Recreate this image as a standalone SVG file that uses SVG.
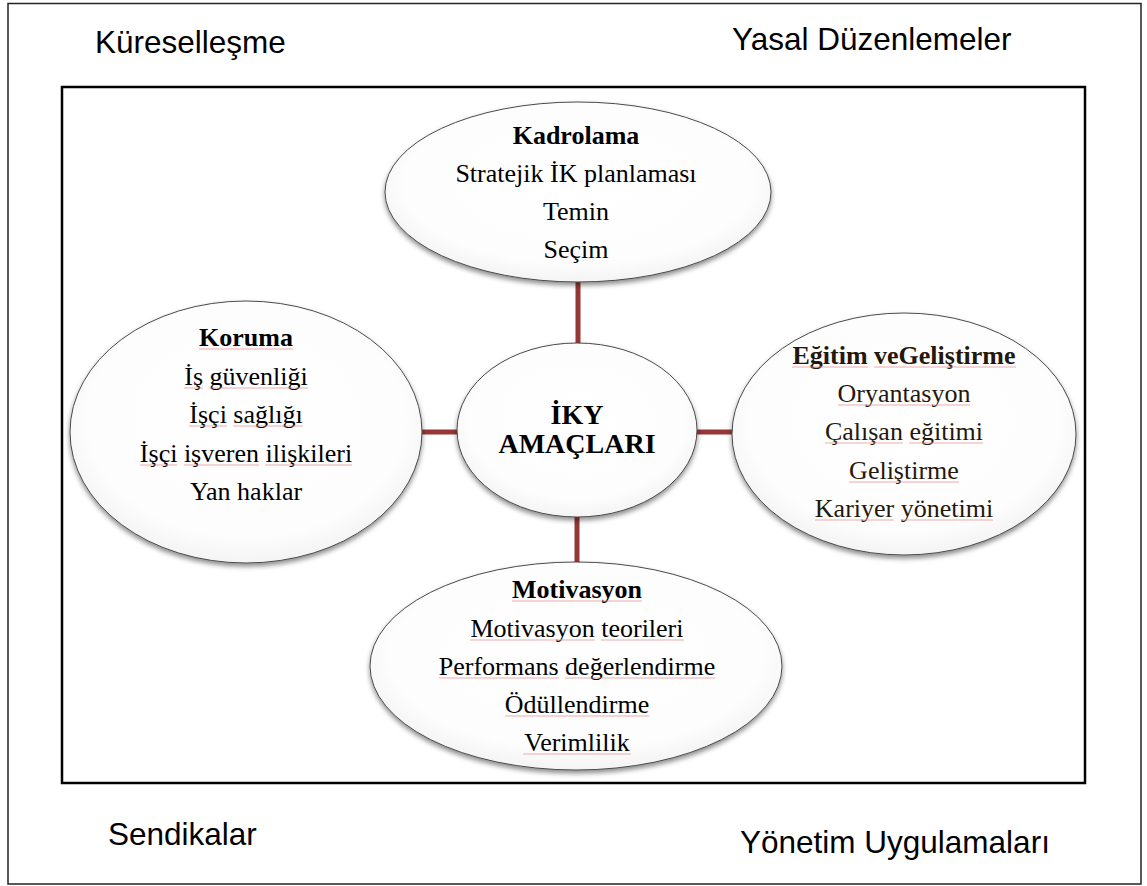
<svg xmlns="http://www.w3.org/2000/svg" width="1147" height="886" viewBox="0 0 1147 886">
<defs>
<radialGradient id="g" cx="50%" cy="45%" r="60%">
<stop offset="0" stop-color="#ffffff"/>
<stop offset="0.75" stop-color="#fdfdfd"/>
<stop offset="1" stop-color="#efefef"/>
</radialGradient>
<filter id="sh" x="-10%" y="-10%" width="120%" height="125%">
<feDropShadow dx="0" dy="3" stdDeviation="2.5" flood-color="#000" flood-opacity="0.45"/>
</filter>
</defs>
<style>
.frame{fill:none}
.el{fill:url(#g);stroke:#4a4a4a;stroke-width:1;filter:url(#sh)}
.t{font-family:"Liberation Serif","Times New Roman",serif;font-size:26px;text-anchor:middle;fill:#000}
.b{font-weight:bold}
.br{fill:#24180c}
.env{font-family:"Liberation Sans",Arial,sans-serif;font-size:31.5px;fill:#000}
.conn line{stroke:#953735;stroke-width:5}
.sp line{stroke:#e88f8f;stroke-width:1;opacity:0.75}
</style>
<rect width="1147" height="886" fill="#fff"/>
<rect class="frame" x="8" y="3.5" width="1133" height="880.5" stroke="#222" stroke-width="1.5"/>
<rect class="frame" x="62" y="87" width="1023" height="696" stroke="#000" stroke-width="2.5"/>
<g id="env">
<text class="env" x="95" y="53">Küreselleşme</text>
<text class="env" x="732" y="50">Yasal Düzenlemeler</text>
<text class="env" x="108" y="845">Sendikalar</text>
<text class="env" x="740" y="853">Yönetim Uygulamaları</text>
</g>
<g id="connectors" class="conn">
<line x1="578" y1="280" x2="578" y2="345"/>
<line x1="420" y1="432" x2="459" y2="432"/>
<line x1="695" y1="432" x2="734" y2="432"/>
<line x1="577" y1="514" x2="577" y2="564"/>
</g>
<g id="kadrolama">
<ellipse class="el" cx="578" cy="192" rx="193" ry="90"/>
<text class="t b" x="576" y="144">Kadrolama</text>
<text class="t" x="576" y="182">Stratejik İK planlaması</text>
<text class="t" x="576" y="220">Temin</text>
<text class="t" x="576" y="258">Seçim</text>
</g>
<g id="koruma">
<ellipse class="el" cx="246" cy="432" rx="176" ry="131"/>
<text class="t b" x="246" y="346">Koruma</text>
<text class="t" x="246" y="385">İş güvenliği</text>
<text class="t" x="246" y="423">İşçi sağlığı</text>
<text class="t" x="246" y="462">İşçi işveren ilişkileri</text>
<text class="t" x="246" y="500">Yan haklar</text>
<g class="sp">
<line x1="199" y1="349" x2="293" y2="349"/>
<line x1="184" y1="388" x2="203" y2="388"/>
<line x1="209.5" y1="388" x2="308" y2="388"/>
<line x1="189" y1="426" x2="227" y2="426"/>
<line x1="233" y1="426" x2="303" y2="426"/>
<line x1="140" y1="465" x2="177" y2="465"/>
<line x1="184" y1="465" x2="259" y2="465"/>
<line x1="265" y1="465" x2="352" y2="465"/>
</g>
</g>
<g id="merkez">
<ellipse class="el" cx="577" cy="430" rx="120" ry="87"/>
<text class="t b" x="577" y="424" style="font-size:28px">İKY</text>
<text class="t b" x="577" y="453" style="font-size:28px">AMAÇLARI</text>
</g>
<g id="egitim">
<ellipse class="el" cx="904" cy="434" rx="172" ry="121"/>
<text class="t b br" x="904" y="364">Eğitim veGeliştirme</text>
<text class="t br" x="904" y="402">Oryantasyon</text>
<text class="t br" x="904" y="440">Çalışan eğitimi</text>
<text class="t br" x="904" y="479">Geliştirme</text>
<text class="t br" x="904" y="517">Kariyer yönetimi</text>
<g class="sp">
<line x1="792" y1="367" x2="868" y2="367"/>
<line x1="874" y1="367" x2="1016" y2="367"/>
<line x1="838" y1="405" x2="970" y2="405"/>
<line x1="825" y1="443" x2="903" y2="443"/>
<line x1="909" y1="443" x2="983" y2="443"/>
<line x1="849" y1="482" x2="959" y2="482"/>
<line x1="815" y1="520" x2="894" y2="520"/>
<line x1="901" y1="520" x2="993" y2="520"/>
</g>
</g>
<g id="motivasyon">
<ellipse class="el" cx="576" cy="666" rx="206" ry="104"/>
<text class="t b" x="577" y="598">Motivasyon</text>
<text class="t" x="577" y="637">Motivasyon teorileri</text>
<text class="t" x="577" y="675">Performans değerlendirme</text>
<text class="t" x="577" y="713">Ödüllendirme</text>
<text class="t" x="577" y="751">Verimlilik</text>
<g class="sp">
<line x1="512" y1="601" x2="642" y2="601"/>
<line x1="470" y1="640" x2="595" y2="640"/>
<line x1="601" y1="640" x2="684" y2="640"/>
<line x1="439" y1="678" x2="559" y2="678"/>
<line x1="565" y1="678" x2="715" y2="678"/>
<line x1="505" y1="716" x2="649" y2="716"/>
<line x1="523" y1="754" x2="631" y2="754"/>
</g>
</g>
</svg>
